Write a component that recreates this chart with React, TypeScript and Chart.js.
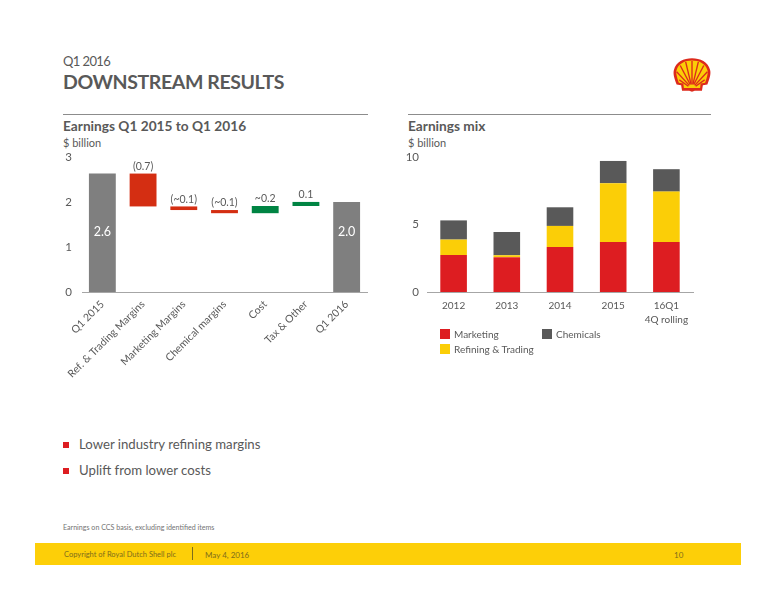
import React, { useEffect, useRef } from 'react';
import { Chart, registerables } from 'chart.js';

Chart.register(...registerables);

const FONT = 'Lato, "Noto Sans", sans-serif';
const TEXT = '#595959';

// waterfall, left chart
const bridgeCategories = ['Q1 2015', 'Ref. & Trading Margins', 'Marketing Margins', 'Chemical margins', 'Cost', 'Tax & Other', 'Q1 2016'];
const bridgeLow = [0, 1.9, 1.82, 1.75, 1.75, 1.91, 0];
const bridgeHigh = [2.63, 2.63, 1.9, 1.82, 1.91, 2.0, 2.0];
const bridgeLabels = ['2.6', '(0.7)', '(~0.1)', '(~0.1)', '~0.2', '0.1', '2.0'];
const bridgeColors = ['#7f7f7f', '#d42e12', '#d42e12', '#d42e12', '#008443', '#008443', '#7f7f7f'];
const bridgeInside = [true, false, false, false, false, false, true];

// stacked bars, right chart
const mixCategories = ['2012', '2013', '2014', '2015', ['16Q1', '4Q rolling']];
const marketing = [2.74, 2.57, 3.33, 3.7, 3.7];
const refining = [1.14, 0.15, 1.56, 4.35, 3.73];
const chemicals = [1.42, 1.72, 1.38, 1.65, 1.66];

const legendItems = [
  { label: 'Marketing', color: '#dd1d21', left: 440, top: 329 },
  { label: 'Chemicals', color: '#595959', left: 542, top: 329 },
  { label: 'Refining & Trading', color: '#fbce07', left: 440, top: 344 },
];

const bulletTexts = ['Lower industry refining margins', 'Uplift from lower costs'];

const bridgeLabelPlugin = {
  id: 'bridgeLabels',
  afterDatasetsDraw(chart: any) {
    const { ctx, scales } = chart;
    const meta = chart.getDatasetMeta(0);
    ctx.save();
    ctx.textAlign = 'center';
    meta.data.forEach((bar: any, i: number) => {
      if (bridgeInside[i]) {
        ctx.fillStyle = '#ffffff';
        ctx.font = `12.5px ${FONT}`;
        ctx.textBaseline = 'middle';
        ctx.fillText(bridgeLabels[i], bar.x, scales.y.getPixelForValue(1.33));
      } else {
        ctx.fillStyle = TEXT;
        ctx.font = `10.5px ${FONT}`;
        ctx.textBaseline = 'bottom';
        ctx.fillText(bridgeLabels[i], bar.x, scales.y.getPixelForValue(bridgeHigh[i]) - 2);
      }
    });
    ctx.restore();
  },
};

const baseOptions: any = {
  responsive: false,
  animation: false,
  plugins: { legend: { display: false }, tooltip: { enabled: false } },
};

const BridgeChart = () => {
  const ref = useRef<HTMLCanvasElement | null>(null);
  useEffect(() => {
    const chart = new Chart(ref.current as HTMLCanvasElement, {
      type: 'bar',
      data: {
        labels: bridgeCategories,
        datasets: [{
          data: bridgeLow.map((low, i) => [low, bridgeHigh[i]]) as any,
          backgroundColor: bridgeColors,
          categoryPercentage: 1,
          barPercentage: 0.66,
        }],
      },
      options: {
        ...baseOptions,
        layout: { padding: { top: 10, right: 8 } },
        scales: {
          x: {
            grid: { display: false, drawTicks: false },
            border: { color: '#a6a6a6' },
            ticks: { color: TEXT, font: { family: FONT, size: 10.5 }, maxRotation: 45, minRotation: 45, autoSkip: false, padding: 6 },
            afterFit: (s: any) => { s.height = 108; },
          },
          y: {
            min: 0,
            max: 3,
            grid: { display: false, drawTicks: false },
            border: { display: false },
            ticks: { color: TEXT, stepSize: 1, font: { family: FONT, size: 11.5 }, padding: 10 },
            afterFit: (s: any) => { s.width = 32; },
          },
        },
      },
      plugins: [bridgeLabelPlugin],
    });
    return () => chart.destroy();
  }, []);
  return <canvas ref={ref} width={325} height={260} style={{ position: 'absolute', left: 50, top: 140 }} />;
};

const MixChart = () => {
  const ref = useRef<HTMLCanvasElement | null>(null);
  useEffect(() => {
    const chart = new Chart(ref.current as HTMLCanvasElement, {
      type: 'bar',
      data: {
        labels: mixCategories as any,
        datasets: [
          { label: 'Marketing', data: marketing, backgroundColor: '#dd1d21' },
          { label: 'Refining & Trading', data: refining, backgroundColor: '#fbce07' },
          { label: 'Chemicals', data: chemicals, backgroundColor: '#595959' },
        ],
      },
      options: {
        ...baseOptions,
        datasets: { bar: { categoryPercentage: 1, barPercentage: 0.5 } },
        layout: { padding: { top: 10, right: 8 } },
        scales: {
          x: {
            stacked: true,
            grid: { display: false, drawTicks: false },
            border: { color: '#a6a6a6' },
            ticks: { color: TEXT, font: { family: FONT, size: 10, lineHeight: 1.4 }, maxRotation: 0, autoSkip: false, padding: 7 },
            afterFit: (s: any) => { s.height = 38; },
          },
          y: {
            stacked: true,
            min: 0,
            max: 10,
            grid: { display: false, drawTicks: false },
            border: { display: false },
            ticks: { color: TEXT, stepSize: 5, font: { family: FONT, size: 11.5 }, padding: 8 },
            afterFit: (s: any) => { s.width = 27; },
          },
        },
      },
    });
    return () => chart.destroy();
  }, []);
  return <canvas ref={ref} width={301} height={188} style={{ position: 'absolute', left: 400, top: 142 }} />;
};

const Label = ({ left, top, size, bold, color, spacing, children }: any) => (
  <div style={{ position: 'absolute', left, top, fontSize: size, lineHeight: 1, fontWeight: bold ? 700 : 400, color: color || TEXT, letterSpacing: spacing || 0, whiteSpace: 'nowrap' }}>
    {children}
  </div>
);

const Rule = ({ left, width }: any) => (
  <div style={{ position: 'absolute', left, top: 114, width, height: 1, background: '#8c8c8c' }} />
);

const Logo = () => (
  <svg width={38} height={35} viewBox="0 0 42 38" style={{ position: 'absolute', left: 673, top: 57 }}>
    <path d="M10 37 L9 31 L4 30 C1 22 0 18 1 14 C3 5 12 1 21 1 C30 1 39 5 41 14 C42 18 41 22 38 30 L33 31 L32 37 L24 37 L21 38 L18 37 Z" fill="#dd2a1c" />
    <path d="M12 34 L11.5 29 L6.5 28 C4 21 3 17 4 14 C6 7 13 3.5 21 3.5 C29 3.5 36 7 38 14 C39 17 38 21 35.5 28 L30.5 29 L30 34 Z" fill="#fbce07" />
    <g stroke="#dd2a1c" strokeWidth={1.5} fill="none">
      <path d="M21 30 L21 4" />
      <path d="M20 30 L14 5" />
      <path d="M22 30 L28 5" />
      <path d="M19 30 L8 9" />
      <path d="M23 30 L34 9" />
      <path d="M18 31 L4 16" />
      <path d="M24 31 L38 16" />
      <path d="M17 32 L7 25" />
      <path d="M25 32 L35 25" />
    </g>
  </svg>
);

export default function App() {
  return (
    <div style={{ position: 'absolute', left: 0, top: 0, width: 776, height: 600, background: '#fff', fontFamily: FONT, overflow: 'hidden' }}>
      <Label left={63} top={55} size={13} spacing={-0.6}>Q1 2016</Label>
      <Label left={63} top={72} size={19.5} spacing={-0.4} bold>DOWNSTREAM RESULTS</Label>
      <Logo />

      <Rule left={63} width={305} />
      <Rule left={408} width={303} />
      <Label left={63} top={119} size={13.7} bold>Earnings Q1 2015 to Q1 2016</Label>
      <Label left={408} top={119} size={13.7} bold>Earnings mix</Label>
      <Label left={63} top={137} size={11}>$ billion</Label>
      <Label left={408} top={137} size={11}>$ billion</Label>

      <BridgeChart />
      <MixChart />

      {legendItems.map(item => (
        <React.Fragment key={item.label}>
          <div style={{ position: 'absolute', left: item.left, top: item.top, width: 10, height: 10, background: item.color }} />
          <Label left={item.left + 14} top={item.top} size={10}>{item.label}</Label>
        </React.Fragment>
      ))}

      {bulletTexts.map((text, i) => (
        <React.Fragment key={text}>
          <div style={{ position: 'absolute', left: 63, top: 442 + i * 26, width: 6, height: 6, background: '#dd1d21' }} />
          <Label left={79} top={438 + i * 26} size={13.2}>{text}</Label>
        </React.Fragment>
      ))}

      <Label left={63} top={524} size={7.1} color="#737373">Earnings on CCS basis, excluding identified items</Label>

      <div style={{ position: 'absolute', left: 35, top: 543, width: 706, height: 22, background: '#fdcf08' }} />
      <Label left={64} top={551} size={7.5} color="#7d6d1c">Copyright of Royal Dutch Shell plc</Label>
      <div style={{ position: 'absolute', left: 192, top: 547, width: 1, height: 13, background: '#7d6d1c' }} />
      <Label left={205} top={551} size={8} color="#7d6d1c">May 4, 2016</Label>
      <Label left={674} top={551} size={8} color="#7d6d1c">10</Label>
    </div>
  );
}
